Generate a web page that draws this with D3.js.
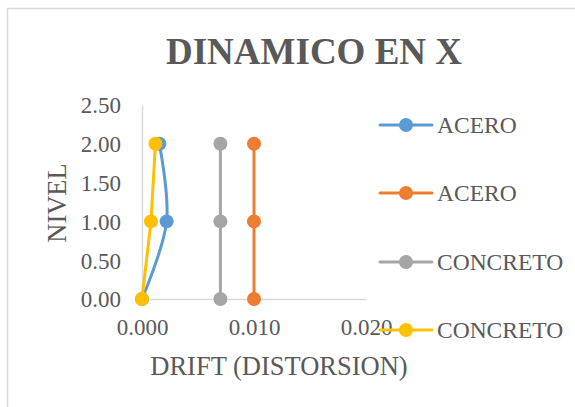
<!DOCTYPE html>
<html>
<head>
<meta charset="utf-8">
<script src="https://cdn.jsdelivr.net/npm/d3@7"></script>
<style>
  html, body { margin: 0; padding: 0; background: #fff; }
  svg { display: block; }
  text { font-family: "Liberation Serif", "Times New Roman", serif; fill: #595959; }
</style>
</head>
<body>
<svg id="chart" width="575" height="407"></svg>
<script>
// Storey levels and drift values per series
const levels = [0, 1, 2];
const aceroDyn = [0, 0.0022, 0.00155];
const aceroLimit = [0.010, 0.010, 0.010];
const concretoLimit = [0.007, 0.007, 0.007];
const concretoDyn = [0, 0.0008, 0.0012];

const seriesNames = ["ACERO", "ACERO", "CONCRETO", "CONCRETO"];
const seriesColors = ["#5B9BD5", "#ED7D31", "#A5A5A5", "#FFC000"];
const seriesValues = [aceroDyn, aceroLimit, concretoLimit, concretoDyn];
const seriesSmooth = [true, false, false, false];

const xTicks = [0, 0.010, 0.020];
const yTicks = [0, 0.5, 1.0, 1.5, 2.0, 2.5];

const svg = d3.select("#chart");

// chart frame
svg.append("rect")
  .attr("x", 7.5).attr("y", 8.5)
  .attr("width", 600).attr("height", 420)
  .attr("fill", "#fff").attr("stroke", "#D9D9D9").attr("stroke-width", 1.5);

const x = d3.scaleLinear().domain([0, 0.020]).range([142, 366]);
const y = d3.scaleLinear().domain([0, 2.5]).range([299, 105]);

// title
svg.append("text")
  .attr("x", 314).attr("y", 64)
  .attr("text-anchor", "middle")
  .style("font-size", "37px").style("font-weight", "bold")
  .text("DINAMICO EN X");

// axes
const xAxis = d3.axisBottom(x).tickValues(xTicks).tickFormat(d3.format(".3f")).tickSize(0).tickPadding(0);
const yAxis = d3.axisLeft(y).tickValues(yTicks).tickFormat(d3.format(".2f")).tickSize(0).tickPadding(0);

const gx = svg.append("g").attr("transform", `translate(0,${y(0)})`).call(xAxis);
gx.select(".domain").attr("stroke", "#D9D9D9").attr("stroke-width", 1.5);
gx.selectAll("text").attr("dy", null).attr("y", 36)
  .style("font-size", "23px").attr("fill", "#595959");

const gy = svg.append("g").attr("transform", `translate(${x(0)},0)`).call(yAxis);
gy.select(".domain").attr("stroke", "#D9D9D9").attr("stroke-width", 1.5);
gy.selectAll("text").attr("x", -21).attr("dy", "0.34em")
  .style("font-size", "23px").attr("fill", "#595959");

// axis titles
svg.append("text")
  .attr("x", 279).attr("y", 375)
  .attr("text-anchor", "middle")
  .style("font-size", "26.5px")
  .text("DRIFT (DISTORSION)");

svg.append("text")
  .attr("transform", "translate(66,203) rotate(-90)")
  .attr("text-anchor", "middle")
  .style("font-size", "26.5px")
  .text("NIVEL");

// series lines and markers
seriesValues.forEach((vals, i) => {
  const pts = levels.map((lv, j) => [vals[j], lv]);
  const line = d3.line()
    .x(d => x(d[0])).y(d => y(d[1]))
    .curve(seriesSmooth[i] ? d3.curveCatmullRom.alpha(0.5) : d3.curveLinear);
  const g = svg.append("g");
  g.append("path").attr("d", line(pts))
    .attr("fill", "none").attr("stroke", seriesColors[i])
    .attr("stroke-width", 3).attr("stroke-linecap", "round").attr("stroke-linejoin", "round");
  g.selectAll("circle").data(pts).join("circle")
    .attr("cx", d => x(d[0])).attr("cy", d => y(d[1]))
    .attr("r", 7).attr("fill", seriesColors[i]);
});

// legend
const legendY = [125, 193, 262, 330];
seriesNames.forEach((name, i) => {
  const g = svg.append("g").attr("transform", `translate(0,${legendY[i]})`);
  g.append("line").attr("x1", 380).attr("x2", 432).attr("y1", 0).attr("y2", 0)
    .attr("stroke", seriesColors[i]).attr("stroke-width", 3).attr("stroke-linecap", "round");
  g.append("circle").attr("cx", 406).attr("cy", 0).attr("r", 7).attr("fill", seriesColors[i]);
  g.append("text").attr("x", 437).attr("y", 0).attr("dy", "0.35em")
    .style("font-size", "23.5px").text(name);
});
</script>
</body>
</html>
